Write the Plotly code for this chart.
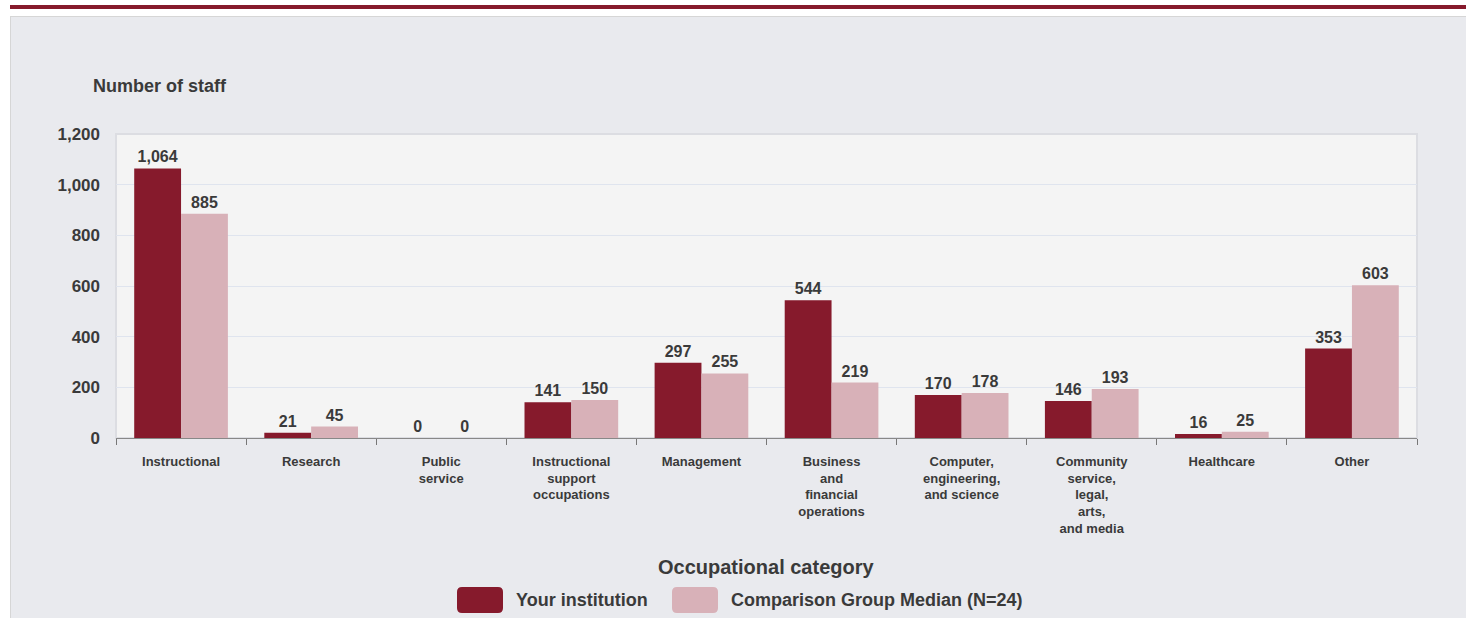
import plotly.graph_objects as go

categories = [
    "Instructional", "Research", "Public<br>service",
    "Instructional<br>support<br>occupations", "Management",
    "Business<br>and<br>financial<br>operations",
    "Computer,<br>engineering,<br>and science",
    "Community<br>service,<br>legal,<br>arts,<br>and media",
    "Healthcare", "Other",
]
your_institution = [1064, 21, 0, 141, 297, 544, 170, 146, 16, 353]
comparison_median = [885, 45, 0, 150, 255, 219, 178, 193, 25, 603]
series_names = ["Your institution", "Comparison Group Median (N=24)"]
y_ticks = [0, 200, 400, 600, 800, 1000, 1200]

DARK = "#861A2C"
LIGHT = "#D8B1B8"
TXT = "#3A3A3A"
FONT = "Liberation Sans"
W, H = 1466, 618
ML, MR, MT, MB = 116, 49, 134, 180
PW, PH = W - ML - MR, H - MT - MB


def px(x):
    return (x - ML) / PW


def py(y):
    return (H - MB - y) / PH


fig = go.Figure()
for name, vals, col in [(series_names[0], your_institution, DARK),
                        (series_names[1], comparison_median, LIGHT)]:
    fig.add_trace(go.Bar(
        x=categories, y=vals, name=name, marker=dict(color=col, line=dict(width=0)),
        text=[f"{v:,}" for v in vals], textposition="outside",
        textfont=dict(family=FONT, size=16, color=TXT, weight="bold"),
        cliponaxis=False, showlegend=False,
    ))

fig.update_layout(
    width=W, height=H,
    margin=dict(l=ML, r=MR, t=MT, b=MB, pad=0),
    paper_bgcolor="#E9EAEE", plot_bgcolor="#F4F4F4",
    barmode="group", bargap=0.28, bargroupgap=0,
    font=dict(family=FONT, color=TXT),
    xaxis=dict(
        type="category", tickson="boundaries", ticks="outside", ticklen=6,
        tickcolor="#777777", tickwidth=1, showline=True, linecolor="#888888", linewidth=1,
        showgrid=False, ticklabelstandoff=11,
        tickfont=dict(family=FONT, size=13, color=TXT, weight="bold"),
    ),
    yaxis=dict(
        range=[0, 1200], tickvals=y_ticks, tickformat=",", showgrid=True,
        gridcolor="#DFE4EE", gridwidth=1, zeroline=False, showline=False,
        ticks="", ticklabelstandoff=15,
        tickfont=dict(family=FONT, size=17, color=TXT, weight="bold"),
    ),
)

shapes = [
    dict(type="rect", xref="paper", yref="paper", x0=px(0), x1=px(W), y0=py(0), y1=py(16),
         fillcolor="white", line=dict(width=0), layer="below"),
    dict(type="rect", xref="paper", yref="paper", x0=px(0), x1=px(10), y0=py(0), y1=py(H),
         fillcolor="white", line=dict(width=0), layer="below"),
    dict(type="rect", xref="paper", yref="paper", x0=px(10), x1=px(W), y0=py(5), y1=py(9),
         fillcolor="#861A2C", line=dict(width=0), layer="below"),
    dict(type="line", xref="paper", yref="paper", x0=px(10), x1=px(W), y0=py(16.5), y1=py(16.5),
         line=dict(color="#D6D6D6", width=1), layer="below"),
    dict(type="line", xref="paper", yref="paper", x0=px(10.5), x1=px(10.5), y0=py(16.5), y1=py(H),
         line=dict(color="#D6D6D6", width=1), layer="below"),
    dict(type="rect", xref="paper", yref="paper", x0=0, x1=1, y0=0, y1=1,
         line=dict(color="#DCDDE2", width=2), fillcolor="rgba(0,0,0,0)", layer="below"),
]


def rounded_box(x0, y0, x1, y1, r, color):
    X0, X1 = px(x0), px(x1)
    Y0, Y1 = py(y0), py(y1)
    rx, ry = r / PW, r / PH
    path = (f"M {X0+rx},{Y0} L {X1-rx},{Y0} Q {X1},{Y0} {X1},{Y0-ry} "
            f"L {X1},{Y1+ry} Q {X1},{Y1} {X1-rx},{Y1} L {X0+rx},{Y1} "
            f"Q {X0},{Y1} {X0},{Y1+ry} L {X0},{Y0-ry} Q {X0},{Y0} {X0+rx},{Y0} Z")
    return dict(type="path", xref="paper", yref="paper", path=path,
                fillcolor=color, line=dict(width=0))


shapes.append(rounded_box(457, 587, 503, 613, 5, DARK))
shapes.append(rounded_box(672, 587, 718, 613, 5, LIGHT))
fig.update_layout(shapes=shapes)

annotations = [
    dict(text="<b>Number of staff</b>", xref="paper", yref="paper", x=px(91), y=py(86),
         xanchor="left", yanchor="middle", showarrow=False,
         font=dict(family=FONT, size=18, color=TXT)),
    dict(text="<b>Occupational category</b>", xref="paper", yref="paper", x=px(766), y=py(567),
         xanchor="center", yanchor="middle", showarrow=False,
         font=dict(family=FONT, size=20, color=TXT)),
    dict(text="<b>" + series_names[0] + "</b>", xref="paper", yref="paper", x=px(514), y=py(600),
         xanchor="left", yanchor="middle", showarrow=False,
         font=dict(family=FONT, size=18, color=TXT)),
    dict(text="<b>" + series_names[1] + "</b>", xref="paper", yref="paper", x=px(729), y=py(600),
         xanchor="left", yanchor="middle", showarrow=False,
         font=dict(family=FONT, size=18, color=TXT)),
]
fig.update_layout(annotations=annotations)

fig.write_html("out.html", post_script="document.body.style.margin='0';",
               config={"displayModeBar": False})
